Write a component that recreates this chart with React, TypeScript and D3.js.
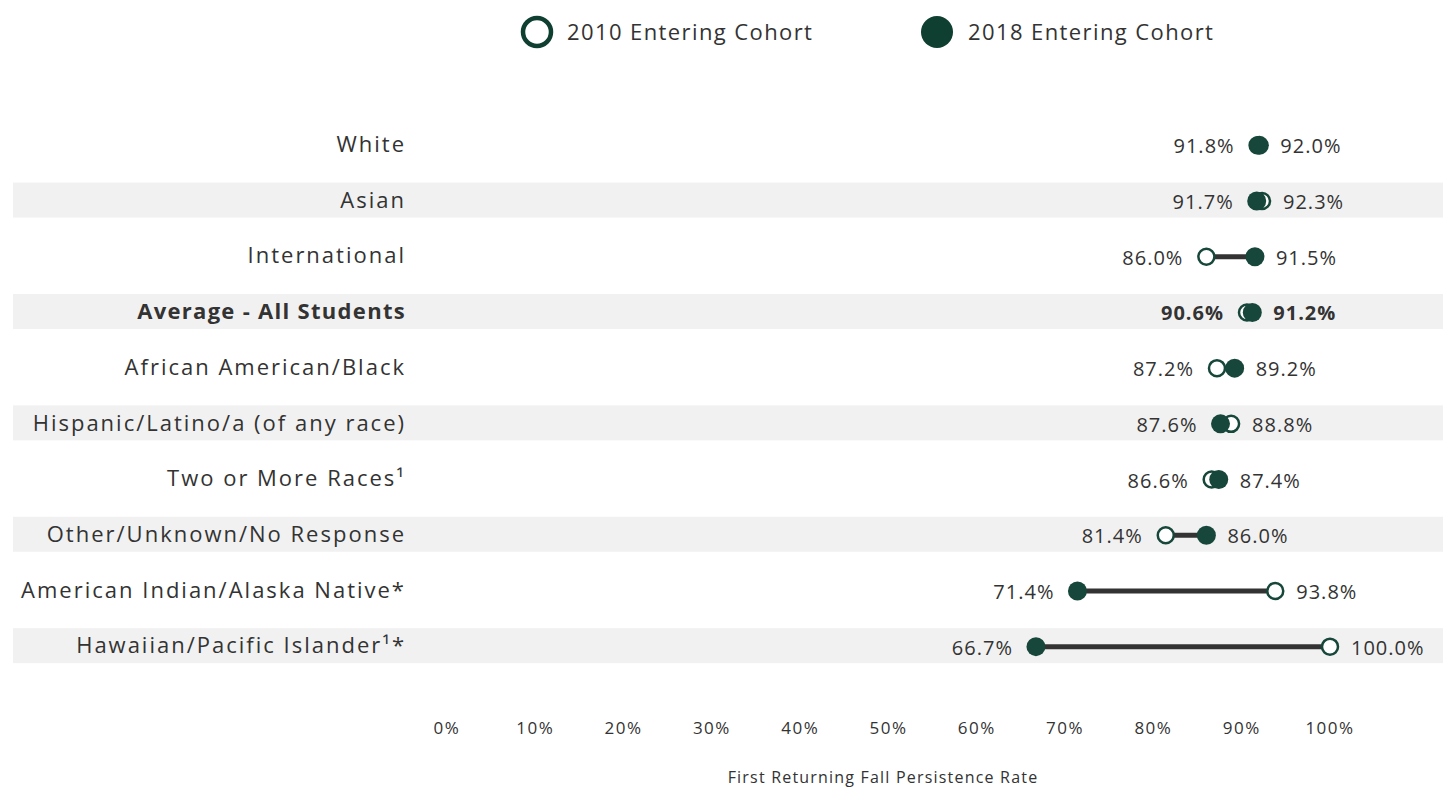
import React from "react";
import * as d3 from "d3";

const categories = [
  "White",
  "Asian",
  "International",
  "Average - All Students",
  "African American/Black",
  "Hispanic/Latino/a (of any race)",
  "Two or More Races¹",
  "Other/Unknown/No Response",
  "American Indian/Alaska Native*",
  "Hawaiian/Pacific Islander¹*",
];
const cohort2010 = [91.8, 92.3, 86.0, 90.6, 87.2, 88.8, 86.6, 81.4, 93.8, 100.0];
const cohort2018 = [92.0, 91.7, 91.5, 91.2, 89.2, 87.6, 87.4, 86.0, 71.4, 66.7];
const boldRows = ["Average - All Students"];
const tickValues = [0, 10, 20, 30, 40, 50, 60, 70, 80, 90, 100];
const legendLabels = ["2010 Entering Cohort", "2018 Entering Cohort"];
const axisTitle = "First Returning Fall Persistence Rate";

const W = 1449;
const H = 788;
const GREEN = "#17473a";
const DARK = "#0f3f30";
const TEXT = "#333333";
const FONT = "'Open Sans', 'Noto Sans', sans-serif";

export default function App() {
  const x = d3.scaleLinear().domain([0, 100]).range([447, 1330]);
  const y = d3
    .scaleBand<string>()
    .domain(categories)
    .range([116.5, 673.5])
    .paddingInner(0);
  const bandH = 35;

  return (
    <svg
      width={W}
      height={H}
      style={{ position: "absolute", left: 0, top: 0, background: "#fff" }}
      fontFamily={FONT}
    >
      {/* legend */}
      <g>
        <circle cx={537} cy={32} r={14} fill="#fff" stroke={DARK} strokeWidth={4.5} />
        <text x={567} y={32} dy="0.35em" fontSize={22} letterSpacing={1.4} fill={TEXT}>
          {legendLabels[0]}
        </text>
        <circle cx={937} cy={32} r={16} fill={DARK} />
        <text x={968} y={32} dy="0.35em" fontSize={22} letterSpacing={1.4} fill={TEXT}>
          {legendLabels[1]}
        </text>
      </g>

      {/* bands */}
      {categories.map((c, i) =>
        i % 2 === 1 ? (
          <rect
            key={"b" + c}
            x={13}
            width={1430}
            y={(y(c) as number) + y.bandwidth() / 2 - bandH / 2}
            height={bandH}
            fill="#f1f1f1"
          />
        ) : null
      )}

      {/* rows */}
      {categories.map((c, i) => {
        const cy = (y(c) as number) + y.bandwidth() / 2;
        const a = cohort2010[i];
        const b = cohort2018[i];
        const lo = Math.min(a, b);
        const hi = Math.max(a, b);
        const bold = boldRows.includes(c);
        return (
          <g key={c}>
            <text
              x={406}
              y={cy}
              dy="0.35em"
              textAnchor="end"
              fontSize={22}
              letterSpacing={bold ? 1.3 : 2}
              fontWeight={bold ? 700 : 400}
              fill={TEXT}
            >
              {c}
            </text>
            <line
              x1={x(lo)}
              x2={x(hi)}
              y1={cy + 1}
              y2={cy + 1}
              stroke="#333"
              strokeWidth={5}
            />
            <circle cx={x(a)} cy={cy + 1} r={8} fill="#fff" stroke={GREEN} strokeWidth={2.5} />
            <circle cx={x(b)} cy={cy + 1} r={9.5} fill={GREEN} />
            <text
              x={x(lo) - 23}
              y={cy + 2}
              dy="0.35em"
              textAnchor="end"
              fontSize={20}
              letterSpacing={1}
              fontWeight={bold ? 700 : 400}
              fill={TEXT}
            >
              {lo.toFixed(1) + "%"}
            </text>
            <text
              x={x(hi) + 21}
              y={cy + 2}
              dy="0.35em"
              textAnchor="start"
              fontSize={20}
              letterSpacing={1}
              fontWeight={bold ? 700 : 400}
              fill={TEXT}
            >
              {hi.toFixed(1) + "%"}
            </text>
          </g>
        );
      })}

      {/* x axis tick labels */}
      {tickValues.map((t) => (
        <text
          key={t}
          x={x(t)}
          y={728}
          dy="0.35em"
          textAnchor="middle"
          fontSize={17}
          letterSpacing={1.5}
          fill={TEXT}
        >
          {t + "%"}
        </text>
      ))}
      <text
        x={883}
        y={777}
        dy="0.35em"
        textAnchor="middle"
        fontSize={16}
        letterSpacing={1.2}
        fill={TEXT}
      >
        {axisTitle}
      </text>
    </svg>
  );
}
